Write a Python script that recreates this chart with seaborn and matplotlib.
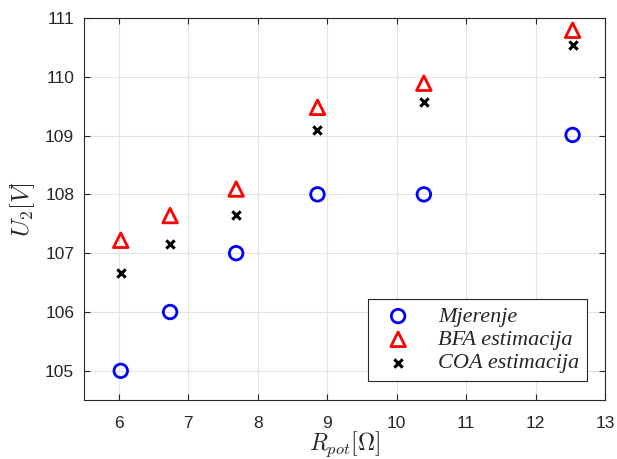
import pandas as pd
import matplotlib.pyplot as plt
import seaborn as sns
import numpy as np

# podaci ocitani sa grafika
r_pot = [6.03, 6.74, 7.69, 8.86, 10.39, 12.53]
u_mjerenje = [105.0, 106.0, 107.0, 108.0, 108.0, 109.01]
u_bfa = [107.22, 107.64, 108.09, 109.48, 109.89, 110.79]
u_coa = [106.67, 107.15, 107.65, 109.10, 109.57, 110.54]

sns.set_theme(style="white")
plt.rcParams['mathtext.fontset'] = 'cm'
plt.rcParams['font.family'] = ['Liberation Sans', 'DejaVu Sans']

fig = plt.figure(figsize=(6.17, 4.59), dpi=100)
ax = fig.add_axes([0.136, 0.128, 0.845, 0.833])

sns.scatterplot(x=r_pot, y=u_mjerenje, ax=ax, marker='o', s=95, facecolor='none',
                edgecolor='#0000ff', linewidth=2, label='Mjerenje', zorder=3)
sns.scatterplot(x=r_pot, y=u_bfa, ax=ax, marker='^', s=110, facecolor='none',
                edgecolor='#ff0000', linewidth=2, label='BFA estimacija', zorder=3)
sns.scatterplot(x=r_pot, y=u_coa, ax=ax, marker='x', s=36, color='black',
                linewidth=2.2, label='COA estimacija', zorder=3)

ax.set_xlim(5.5, 13)
ax.set_ylim(104.5, 111)
ax.set_xticks(np.arange(6, 14, 1))
ax.set_yticks(np.arange(105, 112, 1))
ax.grid(True, color='#e3e3e3', linewidth=0.8)
ax.tick_params(direction='in', length=4, width=0.8, colors='#262626',
               labelsize=12.5, top=True, right=True, bottom=True, left=True,
               labelcolor='#262626', pad=7)
ax.tick_params(axis='x', pad=11)
for sp in ax.spines.values():
    sp.set_color('#262626')
    sp.set_linewidth(0.8)

ax.set_xlabel(r'$R_{pot}[\Omega]$', fontsize=17, labelpad=-1)
ax.set_ylabel(r'$U_2[V]$', fontsize=18, labelpad=6)

leg = ax.legend(loc='lower right', bbox_to_anchor=(0.965, 0.05),
                prop={'family': 'Liberation Serif', 'style': 'italic', 'size': 16},
                frameon=True, fancybox=False, framealpha=1, borderpad=0.35,
                labelspacing=0.12, handletextpad=0.8, borderaxespad=0)
leg.get_frame().set_edgecolor('#262626')
leg.get_frame().set_linewidth(0.8)

plt.savefig('out.png', dpi=100)
